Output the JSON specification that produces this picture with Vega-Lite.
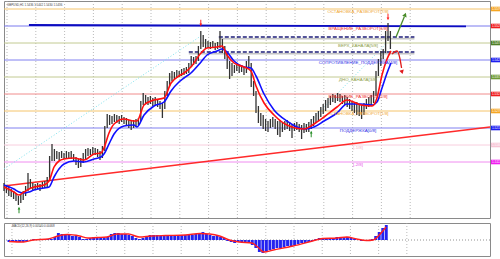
{
"$schema": "https://vega.github.io/schema/vega-lite/v6.json",
"padding": 0,
"spacing": 3,
"background": "white",
"config": {
  "view": {"stroke": "#8a8a8a", "strokeWidth": 1},
  "font": "Liberation Sans",
  "axis": {"labelFont": "Liberation Sans", "labelColor": "#555", "tickColor": "#777", "domain": false, "grid": false, "title": null}
},
"datasets": {
  "grid": [{"t":2.5},{"t":26.5},{"t":50.5},{"t":74.5},{"t":98.5},{"t":122.5},{"t":146.5},{"t":170.5},{"t":194.5},{"t":218.5},{"t":242.5},{"t":266.5},{"t":290.5},{"t":314.5},{"t":338.5}],
  "levels": [
    {"lv":"7/8","p":1.5576,"name":"ОСТАНОВКА_РАЗВОРОТ[7/8]"},
    {"lv":"6/8","p":1.5525,"name":"ВРАЩЕНИЕ_РАЗВОРОТ[6/8]"},
    {"lv":"5/8","p":1.5474,"name":"ВЕРХ_КАНАЛА[5/8]"},
    {"lv":"4/8","p":1.5423,"name":"СОПРОТИВЛЕНИЕ_ПОДДЕРЖКА[4/8]"},
    {"lv":"3/8","p":1.5372,"name":"ДНО_КАНАЛА[3/8]"},
    {"lv":"2/8","p":1.5321,"name":"ВРАЩЕНИЕ_РАЗВОРОТ[2/8]"},
    {"lv":"1/8","p":1.5270,"name":"ОСТАНОВКА_РАЗВОРОТ[1/8]"},
    {"lv":"0/8","p":1.5219,"name":"ПОДДЕРЖКА[0/8]"},
    {"lv":"-1/8","p":1.5168,"name":"[-1/8]"},
    {"lv":"-2/8","p":1.5117,"name":"[-2/8]"}
  ]
},
"vconcat": [
{
  "width": 486,
  "height": 217,
  "resolve": {"scale": {"color": "independent"}},
  "layer": [
    {
      "data": {"name": "grid"},
      "mark": {"type": "rule", "stroke": "#a8a8a8", "strokeDash": [1, 2], "strokeWidth": 0.8},
      "encoding": {"x": {"field": "t", "type": "quantitative", "scale": {"domain": [0, 405], "nice": false, "zero": false}, "axis": null}}
    },
    {
      "data": {"name": "levels"},
      "mark": {"type": "rule", "strokeWidth": 1},
      "encoding": {
        "y": {"field": "p", "type": "quantitative", "scale": {"domain": [1.4949, 1.56], "nice": false, "zero": false},
              "axis": {"orient": "right", "values": [1.4975,1.5005,1.5035,1.5065,1.5095,1.5125,1.5155,1.5185,1.5215,1.5245,1.5275,1.5305,1.5335,1.5365,1.5395,1.5425,1.5455,1.5485,1.5515,1.5545],
                       "format": ".4f", "labelFontSize": 3.6, "tickSize": 2, "labelPadding": 1, "title": null}},
        "color": {"field": "lv", "type": "nominal", "legend": null,
                  "scale": {"domain": ["7/8","6/8","5/8","4/8","3/8","2/8","1/8","0/8","-1/8","-2/8"],
                            "range": ["#f5c46a","#7a7aee","#c2ca92","#8080f0","#c2ca92","#f08c8c","#f5c46a","#8080f0","#f8cede","#f08cf0"]}}
      }
    },
    {
      "data": {"values": [{"t1": 0, "p1": 1.5096, "t2": 164, "p2": 1.5495}, {"t1": 247.5, "p1": 1.5210, "t2": 318, "p2": 1.5471}]},
      "mark": {"type": "rule", "stroke": "#7fe3ee", "strokeDash": [1, 2], "strokeWidth": 1},
      "encoding": {
        "x": {"field": "t1", "type": "quantitative", "scale": {"domain": [0, 405], "nice": false, "zero": false}, "axis": null},
        "x2": {"field": "t2"},
        "y": {"field": "p1", "type": "quantitative", "scale": {"domain": [1.4949, 1.56], "nice": false, "zero": false}, "axis": null},
        "y2": {"field": "p2"}
      }
    },
    {
      "data": {"values": [{"t1": 0, "p1": 1.5045, "t2": 405, "p2": 1.5222}]},
      "mark": {"type": "rule", "stroke": "#ff2a2a", "strokeWidth": 1.5},
      "encoding": {
        "x": {"field": "t1", "type": "quantitative", "scale": {"domain": [0, 405], "nice": false, "zero": false}, "axis": null},
        "x2": {"field": "t2"},
        "y": {"field": "p1", "type": "quantitative", "scale": {"domain": [1.4949, 1.56], "nice": false, "zero": false}, "axis": null},
        "y2": {"field": "p2"}
      }
    },
    {
      "data": {"values": [{"t1": 179, "t2": 342, "p": 1.5492}, {"t1": 154, "t2": 342, "p": 1.5447}]},
      "mark": {"type": "rule", "stroke": "#c4c4c4", "strokeWidth": 1.5, "yOffset": 1.8},
      "encoding": {
        "x": {"field": "t1", "type": "quantitative", "scale": {"domain": [0, 405], "nice": false, "zero": false}, "axis": null},
        "x2": {"field": "t2"},
        "y": {"field": "p", "type": "quantitative", "scale": {"domain": [1.4949, 1.56], "nice": false, "zero": false}, "axis": null}
      }
    },
    {
      "data": {"values": [{"t1": 179, "t2": 342, "p": 1.5492}, {"t1": 154, "t2": 342, "p": 1.5447}]},
      "mark": {"type": "rule", "stroke": "#1c1c78", "strokeWidth": 1.5, "strokeDash": [4, 2]},
      "encoding": {
        "x": {"field": "t1", "type": "quantitative", "scale": {"domain": [0, 405], "nice": false, "zero": false}, "axis": null},
        "x2": {"field": "t2"},
        "y": {"field": "p", "type": "quantitative", "scale": {"domain": [1.4949, 1.56], "nice": false, "zero": false}, "axis": null}
      }
    },
    {
      "data": {"values": [{"t1": 20.8, "p1": 1.5528, "t2": 385, "p2": 1.5524}]},
      "mark": {"type": "rule", "stroke": "#0c0cc0", "strokeWidth": 1.8},
      "encoding": {
        "x": {"field": "t1", "type": "quantitative", "scale": {"domain": [0, 405], "nice": false, "zero": false}, "axis": null},
        "x2": {"field": "t2"},
        "y": {"field": "p1", "type": "quantitative", "scale": {"domain": [1.4949, 1.56], "nice": false, "zero": false}, "axis": null},
        "y2": {"field": "p2"}
      }
    },
    {
      "data": {"values": [
{"t":0,"hi":1.5054,"lo":1.5030},{"t":2,"hi":1.5048,"lo":1.5024},{"t":4,"hi":1.5042,"lo":1.5015},{"t":6,"hi":1.5036,"lo":1.5012},
{"t":8,"hi":1.5030,"lo":1.5006},{"t":10,"hi":1.5024,"lo":1.5000},{"t":12,"hi":1.5015,"lo":1.4988},{"t":14,"hi":1.5021,"lo":1.4994},
{"t":16,"hi":1.5030,"lo":1.5003},{"t":18,"hi":1.5045,"lo":1.5015},{"t":20,"hi":1.5084,"lo":1.5030},{"t":22,"hi":1.5066,"lo":1.5036},
{"t":24,"hi":1.5054,"lo":1.5030},{"t":26,"hi":1.5051,"lo":1.5033},{"t":28,"hi":1.5054,"lo":1.5036},{"t":30,"hi":1.5051,"lo":1.5030},
{"t":32,"hi":1.5057,"lo":1.5036},{"t":34,"hi":1.5060,"lo":1.5039},{"t":36,"hi":1.5072,"lo":1.5042},{"t":38,"hi":1.5135,"lo":1.5060},
{"t":40,"hi":1.5171,"lo":1.5120},{"t":42,"hi":1.5156,"lo":1.5120},{"t":44,"hi":1.5150,"lo":1.5126},{"t":46,"hi":1.5147,"lo":1.5123},
{"t":48,"hi":1.5150,"lo":1.5129},{"t":50,"hi":1.5144,"lo":1.5126},{"t":52,"hi":1.5150,"lo":1.5129},{"t":54,"hi":1.5147,"lo":1.5126},
{"t":56,"hi":1.5150,"lo":1.5126},{"t":58,"hi":1.5141,"lo":1.5120},{"t":60,"hi":1.5132,"lo":1.5108},{"t":62,"hi":1.5126,"lo":1.5099},
{"t":64,"hi":1.5129,"lo":1.5102},{"t":66,"hi":1.5144,"lo":1.5114},{"t":68,"hi":1.5156,"lo":1.5126},{"t":70,"hi":1.5159,"lo":1.5135},
{"t":72,"hi":1.5156,"lo":1.5138},{"t":74,"hi":1.5162,"lo":1.5141},{"t":76,"hi":1.5159,"lo":1.5138},{"t":78,"hi":1.5156,"lo":1.5132},
{"t":80,"hi":1.5150,"lo":1.5123},{"t":82,"hi":1.5165,"lo":1.5129},{"t":84,"hi":1.5225,"lo":1.5150},{"t":86,"hi":1.5261,"lo":1.5219},
{"t":88,"hi":1.5258,"lo":1.5228},{"t":90,"hi":1.5255,"lo":1.5231},{"t":92,"hi":1.5261,"lo":1.5237},{"t":94,"hi":1.5258,"lo":1.5234},
{"t":96,"hi":1.5255,"lo":1.5231},{"t":98,"hi":1.5258,"lo":1.5237},{"t":100,"hi":1.5252,"lo":1.5231},{"t":102,"hi":1.5249,"lo":1.5225},
{"t":104,"hi":1.5243,"lo":1.5219},{"t":106,"hi":1.5240,"lo":1.5213},{"t":108,"hi":1.5243,"lo":1.5219},{"t":110,"hi":1.5246,"lo":1.5222},
{"t":112,"hi":1.5249,"lo":1.5228},{"t":114,"hi":1.5300,"lo":1.5240},{"t":116,"hi":1.5324,"lo":1.5288},{"t":118,"hi":1.5318,"lo":1.5291},
{"t":120,"hi":1.5312,"lo":1.5288},{"t":122,"hi":1.5315,"lo":1.5291},{"t":124,"hi":1.5309,"lo":1.5285},{"t":126,"hi":1.5312,"lo":1.5288},
{"t":128,"hi":1.5306,"lo":1.5282},{"t":130,"hi":1.5300,"lo":1.5276},{"t":132,"hi":1.5294,"lo":1.5249},{"t":134,"hi":1.5330,"lo":1.5276},
{"t":136,"hi":1.5360,"lo":1.5315},{"t":138,"hi":1.5384,"lo":1.5345},{"t":140,"hi":1.5390,"lo":1.5360},{"t":142,"hi":1.5387,"lo":1.5366},
{"t":144,"hi":1.5393,"lo":1.5369},{"t":146,"hi":1.5390,"lo":1.5372},{"t":148,"hi":1.5396,"lo":1.5375},{"t":150,"hi":1.5399,"lo":1.5378},
{"t":152,"hi":1.5402,"lo":1.5381},{"t":154,"hi":1.5414,"lo":1.5384},{"t":156,"hi":1.5435,"lo":1.5402},{"t":158,"hi":1.5432,"lo":1.5408},
{"t":160,"hi":1.5435,"lo":1.5411},{"t":162,"hi":1.5465,"lo":1.5420},{"t":164,"hi":1.5510,"lo":1.5456},{"t":166,"hi":1.5498,"lo":1.5462},
{"t":168,"hi":1.5486,"lo":1.5456},{"t":170,"hi":1.5480,"lo":1.5459},{"t":172,"hi":1.5477,"lo":1.5456},{"t":174,"hi":1.5480,"lo":1.5459},
{"t":176,"hi":1.5474,"lo":1.5453},{"t":178,"hi":1.5477,"lo":1.5456},{"t":180,"hi":1.5510,"lo":1.5459},{"t":182,"hi":1.5486,"lo":1.5444},
{"t":184,"hi":1.5465,"lo":1.5426},{"t":186,"hi":1.5444,"lo":1.5396},{"t":188,"hi":1.5420,"lo":1.5366},{"t":190,"hi":1.5414,"lo":1.5375},
{"t":192,"hi":1.5408,"lo":1.5384},{"t":194,"hi":1.5411,"lo":1.5390},{"t":196,"hi":1.5405,"lo":1.5384},{"t":198,"hi":1.5408,"lo":1.5387},
{"t":200,"hi":1.5402,"lo":1.5378},{"t":202,"hi":1.5420,"lo":1.5384},{"t":204,"hi":1.5435,"lo":1.5396},{"t":206,"hi":1.5414,"lo":1.5342},
{"t":208,"hi":1.5360,"lo":1.5315},{"t":210,"hi":1.5330,"lo":1.5264},{"t":212,"hi":1.5285,"lo":1.5234},{"t":214,"hi":1.5264,"lo":1.5225},
{"t":216,"hi":1.5258,"lo":1.5216},{"t":218,"hi":1.5246,"lo":1.5210},{"t":220,"hi":1.5240,"lo":1.5207},{"t":222,"hi":1.5246,"lo":1.5219},
{"t":224,"hi":1.5252,"lo":1.5222},{"t":226,"hi":1.5246,"lo":1.5216},{"t":228,"hi":1.5240,"lo":1.5198},{"t":230,"hi":1.5243,"lo":1.5192},
{"t":232,"hi":1.5237,"lo":1.5207},{"t":234,"hi":1.5240,"lo":1.5213},{"t":236,"hi":1.5243,"lo":1.5216},{"t":238,"hi":1.5237,"lo":1.5210},
{"t":240,"hi":1.5231,"lo":1.5189},{"t":242,"hi":1.5234,"lo":1.5210},{"t":244,"hi":1.5237,"lo":1.5213},{"t":246,"hi":1.5231,"lo":1.5207},
{"t":248,"hi":1.5228,"lo":1.5186},{"t":250,"hi":1.5234,"lo":1.5204},{"t":252,"hi":1.5231,"lo":1.5207},{"t":254,"hi":1.5237,"lo":1.5207},
{"t":256,"hi":1.5246,"lo":1.5216},{"t":258,"hi":1.5255,"lo":1.5225},{"t":260,"hi":1.5264,"lo":1.5234},{"t":262,"hi":1.5270,"lo":1.5240},
{"t":264,"hi":1.5282,"lo":1.5252},{"t":266,"hi":1.5291,"lo":1.5261},{"t":268,"hi":1.5303,"lo":1.5270},{"t":270,"hi":1.5309,"lo":1.5279},
{"t":272,"hi":1.5315,"lo":1.5288},{"t":274,"hi":1.5321,"lo":1.5297},{"t":276,"hi":1.5318,"lo":1.5294},{"t":278,"hi":1.5324,"lo":1.5300},
{"t":280,"hi":1.5321,"lo":1.5297},{"t":282,"hi":1.5315,"lo":1.5291},{"t":284,"hi":1.5318,"lo":1.5288},{"t":286,"hi":1.5312,"lo":1.5282},
{"t":288,"hi":1.5306,"lo":1.5276},{"t":290,"hi":1.5300,"lo":1.5270},{"t":292,"hi":1.5294,"lo":1.5264},{"t":294,"hi":1.5297,"lo":1.5258},
{"t":296,"hi":1.5291,"lo":1.5255},{"t":298,"hi":1.5288,"lo":1.5246},{"t":300,"hi":1.5294,"lo":1.5258},{"t":302,"hi":1.5306,"lo":1.5276},
{"t":304,"hi":1.5312,"lo":1.5282},{"t":306,"hi":1.5318,"lo":1.5288},{"t":308,"hi":1.5330,"lo":1.5294},{"t":310,"hi":1.5390,"lo":1.5315},
{"t":312,"hi":1.5426,"lo":1.5375},{"t":314,"hi":1.5450,"lo":1.5405},{"t":316,"hi":1.5456,"lo":1.5426},{"t":318,"hi":1.5510,"lo":1.5444},
{"t":320,"hi":1.5534,"lo":1.5480},{"t":322,"hi":1.5510,"lo":1.5456}
      ]},
      "mark": {"type": "rule", "stroke": "#333333", "strokeWidth": 1.3},
      "encoding": {
        "x": {"field": "t", "type": "quantitative", "scale": {"domain": [0, 405], "nice": false, "zero": false}, "axis": null},
        "y": {"field": "lo", "type": "quantitative", "scale": {"domain": [1.4949, 1.56], "nice": false, "zero": false}, "axis": null},
        "y2": {"field": "hi"}
      }
    },
    {
      "data": {"name": "ma", "values": [
{"t":0,"fast":1.5042,"slow":1.5048},{"t":8.3,"fast":1.5027,"slow":1.5036},{"t":12.5,"fast":1.5018,"slow":1.5027},{"t":16.7,"fast":1.5027,"slow":1.5024},
{"t":20.8,"fast":1.5036,"slow":1.5027},{"t":25,"fast":1.5042,"slow":1.5033},{"t":33.3,"fast":1.5048,"slow":1.5039},{"t":37.5,"fast":1.5060,"slow":1.5042},
{"t":41.7,"fast":1.5102,"slow":1.5072},{"t":45.8,"fast":1.5120,"slow":1.5096},{"t":50,"fast":1.5126,"slow":1.5111},{"t":58.3,"fast":1.5129,"slow":1.5120},
{"t":66.7,"fast":1.5123,"slow":1.5117},{"t":75,"fast":1.5141,"slow":1.5126},{"t":80.8,"fast":1.5144,"slow":1.5132},{"t":83.3,"fast":1.5159,"slow":1.5141},
{"t":87.5,"fast":1.5204,"slow":1.5171},{"t":91.7,"fast":1.5231,"slow":1.5201},{"t":100,"fast":1.5246,"slow":1.5225},{"t":108.3,"fast":1.5240,"slow":1.5228},
{"t":110.8,"fast":1.5240,"slow":1.5222},{"t":116.7,"fast":1.5288,"slow":1.5258},{"t":125,"fast":1.5303,"slow":1.5285},{"t":133.3,"fast":1.5309,"slow":1.5297},
{"t":139.2,"fast":1.5354,"slow":1.5330},{"t":145.8,"fast":1.5375,"slow":1.5357},{"t":150,"fast":1.5384,"slow":1.5369},{"t":155.8,"fast":1.5402,"slow":1.5384},
{"t":164.2,"fast":1.5444,"slow":1.5417},{"t":169.2,"fast":1.5459,"slow":1.5438},{"t":177.5,"fast":1.5462,"slow":1.5450},{"t":181.7,"fast":1.5465,"slow":1.5456},
{"t":185.8,"fast":1.5438,"slow":1.5447},{"t":191.7,"fast":1.5414,"slow":1.5420},{"t":200,"fast":1.5402,"slow":1.5402},{"t":205.8,"fast":1.5390,"slow":1.5399},
{"t":210,"fast":1.5345,"slow":1.5375},{"t":216.7,"fast":1.5294,"slow":1.5321},{"t":225,"fast":1.5258,"slow":1.5273},{"t":235.8,"fast":1.5228,"slow":1.5240},
{"t":250,"fast":1.5216,"slow":1.5216},{"t":258.3,"fast":1.5231,"slow":1.5222},{"t":266.7,"fast":1.5252,"slow":1.5240},{"t":277.5,"fast":1.5282,"slow":1.5264},
{"t":285.8,"fast":1.5303,"slow":1.5291},{"t":297.5,"fast":1.5288,"slow":1.5291},{"t":306.7,"fast":1.5285,"slow":1.5288},{"t":310.8,"fast":1.5309,"slow":1.5297},
{"t":315,"fast":1.5378,"slow":1.5339},{"t":319.2,"fast":1.5426,"slow":1.5384},{"t":322.5,"fast":1.5450,"slow":1.5414}
      ]},
      "mark": {"type": "line", "stroke": "#1010ff", "strokeWidth": 1.6, "interpolate": "monotone"},
      "encoding": {
        "x": {"field": "t", "type": "quantitative", "scale": {"domain": [0, 405], "nice": false, "zero": false}, "axis": null},
        "y": {"field": "slow", "type": "quantitative", "scale": {"domain": [1.4949, 1.56], "nice": false, "zero": false}, "axis": null}
      }
    },
    {
      "data": {"name": "ma"},
      "mark": {"type": "line", "stroke": "#ff1010", "strokeWidth": 1.6, "interpolate": "monotone"},
      "encoding": {
        "x": {"field": "t", "type": "quantitative", "scale": {"domain": [0, 405], "nice": false, "zero": false}, "axis": null},
        "y": {"field": "fast", "type": "quantitative", "scale": {"domain": [1.4949, 1.56], "nice": false, "zero": false}, "axis": null}
      }
    },
    {
      "data": {"values": [{"t": 164, "p": 1.5534}, {"t": 320, "p": 1.5552}]},
      "mark": {"type": "point", "shape": "arrow", "angle": 180, "filled": true, "fill": "#ff1a1a", "size": 45, "opacity": 1},
      "encoding": {
        "x": {"field": "t", "type": "quantitative", "scale": {"domain": [0, 405], "nice": false, "zero": false}, "axis": null},
        "y": {"field": "p", "type": "quantitative", "scale": {"domain": [1.4949, 1.56], "nice": false, "zero": false}, "axis": null}
      }
    },
    {
      "data": {"values": [{"t": 12.5, "p": 1.4973}, {"t": 256, "p": 1.5201}]},
      "mark": {"type": "point", "shape": "arrow", "filled": true, "fill": "#1f8a1f", "size": 45, "opacity": 1},
      "encoding": {
        "x": {"field": "t", "type": "quantitative", "scale": {"domain": [0, 405], "nice": false, "zero": false}, "axis": null},
        "y": {"field": "p", "type": "quantitative", "scale": {"domain": [1.4949, 1.56], "nice": false, "zero": false}, "axis": null}
      }
    },
    {
      "data": {"values": [{"t": 323.3, "p": 1.5441}, {"t": 327.5, "p": 1.5450}, {"t": 330, "p": 1.5426}, {"t": 331.3, "p": 1.5399}]},
      "mark": {"type": "line", "stroke": "#e01c1c", "strokeWidth": 1.3, "interpolate": "monotone"},
      "encoding": {
        "x": {"field": "t", "type": "quantitative", "scale": {"domain": [0, 405], "nice": false, "zero": false}, "axis": null},
        "y": {"field": "p", "type": "quantitative", "scale": {"domain": [1.4949, 1.56], "nice": false, "zero": false}, "axis": null}
      }
    },
    {
      "data": {"values": [{"t": 331.7, "p": 1.5387}]},
      "mark": {"type": "point", "shape": "triangle-down", "filled": true, "fill": "#e01c1c", "size": 22, "opacity": 1, "angle": -15},
      "encoding": {
        "x": {"field": "t", "type": "quantitative", "scale": {"domain": [0, 405], "nice": false, "zero": false}, "axis": null},
        "y": {"field": "p", "type": "quantitative", "scale": {"domain": [1.4949, 1.56], "nice": false, "zero": false}, "axis": null}
      }
    },
    {
      "data": {"values": [{"t1": 326.7, "p1": 1.5492, "t2": 333.6, "p2": 1.5553}]},
      "mark": {"type": "rule", "stroke": "#4a8c2a", "strokeWidth": 1.3},
      "encoding": {
        "x": {"field": "t1", "type": "quantitative", "scale": {"domain": [0, 405], "nice": false, "zero": false}, "axis": null},
        "x2": {"field": "t2"},
        "y": {"field": "p1", "type": "quantitative", "scale": {"domain": [1.4949, 1.56], "nice": false, "zero": false}, "axis": null},
        "y2": {"field": "p2"}
      }
    },
    {
      "data": {"values": [{"t": 334.3, "p": 1.5559}]},
      "mark": {"type": "point", "shape": "triangle-up", "filled": true, "fill": "#4a8c2a", "size": 22, "opacity": 1, "angle": 22},
      "encoding": {
        "x": {"field": "t", "type": "quantitative", "scale": {"domain": [0, 405], "nice": false, "zero": false}, "axis": null},
        "y": {"field": "p", "type": "quantitative", "scale": {"domain": [1.4949, 1.56], "nice": false, "zero": false}, "axis": null}
      }
    },
    {
      "data": {"name": "levels"},
      "mark": {"type": "text", "fontSize": 4.4, "align": "center", "baseline": "middle", "dy": 2.6},
      "encoding": {
        "x": {"datum": 295, "type": "quantitative", "scale": {"domain": [0, 405], "nice": false, "zero": false}, "axis": null},
        "y": {"field": "p", "type": "quantitative", "scale": {"domain": [1.4949, 1.56], "nice": false, "zero": false}, "axis": null},
        "text": {"field": "name"},
        "color": {"field": "lv", "type": "nominal", "legend": null,
                  "scale": {"domain": ["7/8","6/8","5/8","4/8","3/8","2/8","1/8","0/8","-1/8","-2/8"],
                            "range": ["#f0a632","#ee2a2a","#8c9c44","#2a2ae6","#8c9c44","#ee2a2a","#f0a632","#2a2ae6","#f4b4c8","#e84ce8"]}}
      }
    },
    {
      "data": {"name": "levels"},
      "mark": {"type": "tick", "orient": "horizontal", "size": 13, "thickness": 4.6, "opacity": 1, "clip": false},
      "encoding": {
        "x": {"datum": 411.2, "type": "quantitative", "scale": {"domain": [0, 405], "nice": false, "zero": false}, "axis": null},
        "y": {"field": "p", "type": "quantitative", "scale": {"domain": [1.4949, 1.56], "nice": false, "zero": false}, "axis": null},
        "color": {"field": "lv", "type": "nominal", "legend": null,
                  "scale": {"domain": ["7/8","6/8","5/8","4/8","3/8","2/8","1/8","0/8","-1/8","-2/8"],
                            "range": ["#f5a623","#f01e1e","#4f7f25","#1e1ef0","#6f9a35","#f01e1e","#f5a623","#1e1ef0","#f8c6d6","#f01ef0"]}}
      }
    },
    {
      "data": {"name": "levels"},
      "mark": {"type": "text", "fontSize": 3.1, "align": "center", "baseline": "middle", "fill": "white", "clip": false},
      "encoding": {
        "x": {"datum": 410.6, "type": "quantitative", "scale": {"domain": [0, 405], "nice": false, "zero": false}, "axis": null},
        "y": {"field": "p", "type": "quantitative", "scale": {"domain": [1.4949, 1.56], "nice": false, "zero": false}, "axis": null},
        "text": {"field": "p", "type": "quantitative", "format": ".4f"}
      }
    },
    {
      "data": {"values": [{"label": "GBPUSD,H1  1.5436 1.5442 1.5430 1.5436"}]},
      "mark": {"type": "text", "fontSize": 2.9, "align": "left", "baseline": "middle", "fill": "#444"},
      "encoding": {
        "x": {"datum": 2.5, "type": "quantitative", "scale": {"domain": [0, 405], "nice": false, "zero": false}, "axis": null},
        "y": {"datum": 1.5588, "type": "quantitative", "scale": {"domain": [1.4949, 1.56], "nice": false, "zero": false}, "axis": null},
        "text": {"field": "label"}
      }
    }
  ]
},
{
  "width": 486,
  "height": 33,
  "layer": [
    {
      "data": {"name": "grid"},
      "mark": {"type": "rule", "stroke": "#a8a8a8", "strokeDash": [1, 2], "strokeWidth": 0.8},
      "encoding": {"x": {"field": "t", "type": "quantitative", "scale": {"domain": [0, 405], "nice": false, "zero": false}, "axis": null}}
    },
    {
      "data": {"values": [{"z": 0}]},
      "mark": {"type": "rule", "stroke": "#777", "strokeDash": [1, 2], "strokeWidth": 0.8},
      "encoding": {"y": {"field": "z", "type": "quantitative", "scale": {"domain": [-0.00576, 0.00612], "nice": false, "zero": false}, "axis": null}}
    },
    {
      "data": {"values": [
{"t":0,"v":-0.00072},{"t":3,"v":-0.00072},{"t":6,"v":-0.00072},{"t":9,"v":-0.00072},{"t":12,"v":-0.00072},{"t":15,"v":-0.00036},
{"t":18,"v":0},{"t":21,"v":0.00036},{"t":24,"v":0.00036},{"t":27,"v":0.00036},{"t":30,"v":0.00036},{"t":33,"v":0.00036},
{"t":36,"v":0.00036},{"t":39,"v":0.00108},{"t":42,"v":0.00252},{"t":45,"v":0.00216},{"t":48,"v":0.0018},{"t":51,"v":0.0018},
{"t":54,"v":0.00144},{"t":57,"v":0.00144},{"t":60,"v":0.00108},{"t":63,"v":0.00036},{"t":66,"v":0.00036},{"t":69,"v":0.00072},
{"t":72,"v":0.00108},{"t":75,"v":0.00108},{"t":78,"v":0.00108},{"t":81,"v":0.00072},{"t":84,"v":0.00108},{"t":87,"v":0.00216},
{"t":90,"v":0.00252},{"t":93,"v":0.00252},{"t":96,"v":0.00216},{"t":99,"v":0.00216},{"t":102,"v":0.0018},{"t":105,"v":0.00144},
{"t":108,"v":0.00072},{"t":111,"v":0.00036},{"t":114,"v":0.00072},{"t":117,"v":0.00144},{"t":120,"v":0.0018},{"t":123,"v":0.0018},
{"t":126,"v":0.0018},{"t":129,"v":0.00144},{"t":132,"v":0.00144},{"t":135,"v":0.00144},{"t":138,"v":0.0018},{"t":141,"v":0.0018},
{"t":144,"v":0.0018},{"t":147,"v":0.0018},{"t":150,"v":0.0018},{"t":153,"v":0.0018},{"t":156,"v":0.0018},{"t":159,"v":0.00216},
{"t":162,"v":0.00252},{"t":165,"v":0.00288},{"t":168,"v":0.00216},{"t":171,"v":0.0018},{"t":174,"v":0.00144},{"t":177,"v":0.00144},
{"t":180,"v":0.00108},{"t":183,"v":0.00072},{"t":186,"v":-0.00036},{"t":189,"v":-0.00072},{"t":192,"v":-0.00108},{"t":195,"v":-0.00072},
{"t":198,"v":-0.00072},{"t":201,"v":-0.00072},{"t":204,"v":-0.00108},{"t":207,"v":-0.0018},{"t":210,"v":-0.00288},{"t":213,"v":-0.00432},
{"t":216,"v":-0.00468},{"t":219,"v":-0.00396},{"t":222,"v":-0.0036},{"t":225,"v":-0.00324},{"t":228,"v":-0.00288},{"t":231,"v":-0.00288},
{"t":234,"v":-0.00252},{"t":237,"v":-0.00216},{"t":240,"v":-0.00216},{"t":243,"v":-0.0018},{"t":246,"v":-0.00144},{"t":249,"v":-0.00108},
{"t":252,"v":-0.00108},{"t":255,"v":-0.00072},{"t":258,"v":-0.00036},{"t":261,"v":0.00036},{"t":264,"v":0.00072},{"t":267,"v":0.00036},
{"t":270,"v":0.00036},{"t":273,"v":0.00036},{"t":276,"v":0.00072},{"t":279,"v":0.00108},{"t":282,"v":0.00108},{"t":285,"v":0.00108},
{"t":288,"v":0.00108},{"t":291,"v":0.00072},{"t":294,"v":0.00036},{"t":297,"v":0},{"t":300,"v":-0.00036},{"t":303,"v":-0.00036},
{"t":306,"v":0},{"t":309,"v":0.00036},{"t":312,"v":0.00144},{"t":315,"v":0.00288},{"t":318,"v":0.00432},{"t":321,"v":0.0054}
      ]},
      "mark": {"type": "bar", "fill": "#2323f0", "size": 2.9},
      "encoding": {
        "x": {"field": "t", "type": "quantitative", "scale": {"domain": [0, 405], "nice": false, "zero": false},
              "axis": {"orient": "bottom", "values": [1,17,33,49,65,81,97,113,129,145,161,177,193,209,225,241,257,273,289,305,321],
                       "labelExpr": "['21 Apr 2015','21 Apr 16:00','22 Apr 08:00','23 Apr 00:00','23 Apr 16:00','24 Apr 08:00','27 Apr 00:00','27 Apr 16:00','28 Apr 08:00','29 Apr 00:00','29 Apr 16:00','30 Apr 08:00','1 May 00:00','1 May 16:00','4 May 08:00','5 May 00:00','5 May 16:00','6 May 08:00','7 May 00:00','7 May 16:00','8 May 08:00'][round((datum.value-1)/16)]",
                       "labelFontSize": 2.9, "labelAlign": "left", "labelPadding": 0.5, "tickSize": 2, "labelOverlap": false, "labelFlush": false, "labelBound": false, "title": null}},
        "y": {"field": "v", "type": "quantitative", "scale": {"domain": [-0.00576, 0.00612], "nice": false, "zero": false},
              "axis": {"orient": "right", "values": [0.0058, 0, -0.0055], "labelExpr": "datum.value == 0 ? '0.00' : format(datum.value, '.4f')",
                       "labelFontSize": 3.6, "tickSize": 2, "labelPadding": 1, "title": null}}
      }
    },
    {
      "data": {"values": [
{"t":0,"v":-0.00054},{"t":12.5,"v":-0.00072},{"t":20.8,"v":0},{"t":33.3,"v":0.00036},{"t":41.7,"v":0.00144},{"t":50,"v":0.00198},
{"t":60,"v":0.00144},{"t":66.7,"v":0.00072},{"t":75,"v":0.0009},{"t":83.3,"v":0.00108},{"t":91.7,"v":0.00216},{"t":101.7,"v":0.00216},
{"t":110.8,"v":0.00108},{"t":120.8,"v":0.00144},{"t":133.3,"v":0.00162},{"t":150,"v":0.0018},{"t":162.5,"v":0.00234},{"t":170.8,"v":0.00216},
{"t":179.2,"v":0.00144},{"t":187.5,"v":0},{"t":195.8,"v":-0.00072},{"t":206.7,"v":-0.00108},{"t":212.5,"v":-0.00288},{"t":216.7,"v":-0.00432},
{"t":225,"v":-0.0036},{"t":241.7,"v":-0.00216},{"t":258.3,"v":-0.00036},{"t":266.7,"v":0.00054},{"t":279.2,"v":0.00072},{"t":287.5,"v":0.00108},
{"t":295.8,"v":0.00036},{"t":304.2,"v":-0.00018},{"t":310,"v":0},{"t":315,"v":0.0018},{"t":320.8,"v":0.00468}
      ]},
      "mark": {"type": "line", "stroke": "#ff2020", "strokeWidth": 1.4, "interpolate": "monotone"},
      "encoding": {
        "x": {"field": "t", "type": "quantitative", "scale": {"domain": [0, 405], "nice": false, "zero": false}, "axis": null},
        "y": {"field": "v", "type": "quantitative", "scale": {"domain": [-0.00576, 0.00612], "nice": false, "zero": false}, "axis": null}
      }
    },
    {
      "data": {"values": [{"label": "MACD(12,26,9) 0.00540 0.00468"}]},
      "mark": {"type": "text", "fontSize": 2.9, "align": "left", "baseline": "middle", "fill": "#444"},
      "encoding": {
        "x": {"datum": 2.5, "type": "quantitative", "scale": {"domain": [0, 405], "nice": false, "zero": false}, "axis": null},
        "y": {"datum": 0.0052, "type": "quantitative", "scale": {"domain": [-0.00576, 0.00612], "nice": false, "zero": false}, "axis": null},
        "text": {"field": "label"}
      }
    }
  ]
}
]
}
